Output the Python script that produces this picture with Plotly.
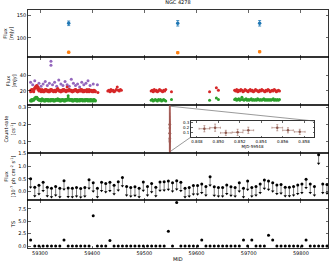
import plotly.graph_objects as go

# ---------------- Panel 1: radio flux (mJy) ----------------
radio_t = [59355, 59564, 59721]
radio_blue = [132, 132, 132]
radio_blue_err = [5, 6, 6]
radio_orange = [69, 68, 70]
radio_orange_err = [2, 2, 2]

# ---------------- Panel 2: optical / UV flux (mJy) ----------------
seg1_t = [59282, 59284, 59286, 59288, 59290, 59292, 59294, 59296, 59298, 59300,
          59302, 59304, 59306, 59308, 59310, 59312, 59314, 59316, 59318, 59320,
          59322, 59324, 59326, 59328, 59330, 59332, 59334, 59336, 59338, 59340,
          59342, 59344, 59346, 59348, 59350, 59352, 59354, 59356, 59358, 59360,
          59362, 59364, 59366, 59368, 59370, 59372, 59374, 59376, 59378, 59380,
          59382, 59384, 59386, 59388, 59390, 59392, 59394, 59396, 59398, 59400,
          59402, 59404, 59406]
red1_a = [21, 20, 22, 19, 24, 26, 27, 25, 23, 22, 21, 20, 19, 21, 22, 20, 21, 19, 20, 22,
          21, 20, 19, 21, 20, 22, 23, 21, 20, 19, 21, 20, 22, 21, 20, 25, 21, 22, 20, 21,
          19, 20, 21, 22, 20, 19, 21, 20, 22, 21, 20, 19, 21, 20, 22, 21, 19, 20, 21, 20,
          19, 21, 20]
red1_b = [19, 22, 20, 21, 23, 25, 24, 22, 20, 21, 19, 22, 20, 19, 21, 22, 20, 21, 19, 20,
          22, 21, 20, 20, 19, 21, 22, 20, 21, 19, 20, 22, 21, 20, 19, 21, 20, 22, 21, 20,
          19, 21, 20, 22, 21, 19, 20, 21, 20, 22, 19, 21, 20, 21, 19, 20, 22, 21, 20, 19,
          21, 20, 19]
green1_a = [8, 7, 9, 8, 10, 11, 12, 10, 9, 8, 9, 10, 8, 7, 9, 8, 9, 7, 8, 9,
            8, 9, 7, 8, 9, 8, 10, 8, 9, 7, 8, 9, 8, 7, 9, 8, 14, 9, 8, 9,
            7, 8, 9, 8, 9, 7, 8, 9, 8, 9, 7, 8, 9, 8, 9, 7, 8, 9, 8, 7,
            9, 8, 8]
green1_b = [7, 9, 8, 9, 11, 12, 11, 9, 8, 9, 7, 8, 9, 8, 7, 9, 8, 9, 8, 7,
            9, 8, 9, 7, 8, 9, 8, 9, 7, 8, 9, 8, 7, 9, 8, 9, 11, 8, 9, 8,
            9, 7, 8, 9, 7, 9, 8, 7, 9, 8, 9, 8, 7, 9, 8, 9, 8, 7, 9, 8,
            7, 9, 7]
purple_t = [59282, 59286, 59290, 59294, 59298, 59302, 59306, 59310, 59314, 59318,
            59321, 59321, 59324, 59328, 59332, 59336, 59340, 59344, 59348, 59352,
            59356, 59360, 59364, 59368, 59372, 59376, 59380, 59384, 59388, 59392,
            59396, 59402, 59410]
purple_v = [31, 28, 33, 27, 30, 26, 29, 32, 27, 30,
            58, 53, 28, 31, 26, 34, 29, 27, 32, 28,
            26, 35, 30, 27, 29, 25, 31, 28, 30, 33,
            27, 29, 28]

seg_t = [59411, 59430, 59432, 59434, 59436, 59438, 59440, 59442, 59444, 59446, 59448,
         59450, 59452, 59454, 59456,
         59513, 59515, 59517, 59519, 59521, 59523, 59525, 59527, 59529, 59531, 59533,
         59535, 59537, 59539, 59541, 59552, 59625, 59638, 59642,
         59673, 59675, 59677, 59679, 59681, 59683, 59685, 59687, 59689, 59691, 59693,
         59695, 59697, 59699, 59701, 59703, 59705, 59707, 59709, 59711, 59713, 59715,
         59717, 59719, 59721, 59723, 59725, 59727, 59729, 59731, 59733, 59735, 59737,
         59739, 59741, 59743, 59745, 59747, 59749, 59751, 59753, 59755, 59757, 59759]
red2_v = [18, 20, 21, 19, 22, 20, 21, 19, 20, 22, 25,
          21, 20, 22, 21,
          20, 21, 19, 22, 20, 21, 19, 20, 22, 21, 20, 19, 21, 20, 22, 19, 19, 24, 21,
          21, 20, 22, 19, 21, 20, 22, 21, 19, 20, 22, 21, 20, 19, 21, 22, 20, 21, 19,
          20, 22, 21, 20, 19, 21, 20, 22, 21, 20, 19, 21, 20, 22, 21, 19, 20, 21, 20,
          22, 21, 19, 20, 21, 20]
green2_t = [59513, 59515, 59517, 59519, 59521, 59523, 59525, 59527, 59529, 59531, 59533,
            59535, 59537, 59539, 59541, 59552, 59625, 59638, 59642,
            59673, 59675, 59677, 59679, 59681, 59683, 59685, 59687, 59689, 59691, 59693,
            59695, 59697, 59699, 59701, 59703, 59705, 59707, 59709, 59711, 59713, 59715,
            59717, 59719, 59721, 59723, 59725, 59727, 59729, 59731, 59733, 59735, 59737,
            59739, 59741, 59743, 59745, 59747, 59749, 59751, 59753, 59755, 59757, 59759]
green2_v = [8, 9, 7, 8, 9, 8, 7, 9, 8, 9, 7, 8, 9, 8, 7, 9, 8, 11, 9,
            9, 10, 8, 9, 10, 8, 9, 12, 9, 8, 9, 10, 8, 9, 8, 9, 10, 8, 9, 8,
            9, 8, 10, 9, 8, 9, 8, 9, 10, 8, 9, 8, 9, 8, 9, 8, 9, 10, 8, 9, 8,
            9, 8, 9]

# ---------------- Panel 3: X-ray count rate ----------------
xr_dt = [0.8487, 0.8497, 0.8507, 0.8518, 0.8528, 0.8555, 0.8565, 0.8576]
xr_rate = [0.18, 0.20, 0.10, 0.11, 0.15, 0.20, 0.15, 0.12]
xr_rate_err = [0.06, 0.07, 0.05, 0.06, 0.06, 0.06, 0.05, 0.05]
xr_dt_err = [0.0005, 0.0005, 0.0005, 0.0005, 0.0005, 0.0005, 0.0005, 0.0005]
xr_mjd0 = 59548

# ---------------- Panel 4/5: gamma-ray upper limits and TS ----------------
lat_t = [59282, 59290, 59298, 59306, 59314, 59322, 59330, 59338, 59346, 59354,
         59362, 59370, 59378, 59386, 59394, 59402, 59410, 59418, 59426, 59434,
         59442, 59450, 59458, 59466, 59474, 59482, 59490, 59498, 59506, 59514,
         59522, 59530, 59538, 59546, 59554, 59562, 59570, 59578, 59586, 59594,
         59602, 59610, 59618, 59626, 59634, 59642, 59650, 59658, 59666, 59674,
         59682, 59690, 59698, 59706, 59714, 59722, 59730, 59738, 59746, 59754,
         59762, 59770, 59778, 59786, 59794, 59802, 59810, 59818, 59826, 59834,
         59842, 59850]
lat_ul = [0.51, 0.17, 0.25, 0.37, 0.17, 0.13, 0.20, 0.13, 0.43, 0.14,
          0.13, 0.16, 0.12, 0.16, 0.47, 0.35, 0.13, 0.37, 0.32, 0.37,
          0.25, 0.39, 0.56, 0.20, 0.16, 0.19, 0.13, 0.38, 0.20, 0.32,
          0.17, 0.38, 0.39, 0.42, 0.35, 0.43, 0.37, 0.13, 0.16, 0.24,
          0.24, 0.30, 0.20, 0.59, 0.19, 0.16, 0.16, 0.26, 0.19, 0.16,
          0.35, 0.13, 0.42, 0.16, 0.20, 0.30, 0.46, 0.42, 0.35, 0.26,
          0.28, 0.17, 0.17, 0.20, 0.26, 0.30, 0.49, 0.30, 0.20, 1.45,
          0.30, 0.28]
lat_arrow = 0.34
lat_ts = [1.2, 0, 0, 0, 0, 0, 0, 0, 1.2, 0,
          0, 0, 0, 0, 0, 6.1, 0, 0, 0, 1.1,
          0, 0, 0, 0, 0, 0, 0, 0, 0, 0,
          0, 0, 0, 3.0, 0, 8.8, 0, 0, 0, 0,
          0, 1.2, 0, 0, 0, 0, 0, 0, 0, 0,
          0, 1.2, 0, 1.2, 0, 0, 0, 2.2, 1.2, 0,
          0, 0, 0, 0, 0, 0, 1.2, 0, 0, 0,
          0, 0]

x_ticks = [59300, 59400, 59500, 59600, 59700, 59800]
x_ticktext = ["59300", "59400", "59500", "59600", "59700", "59800"]

XR = [59277, 59852]
FONT = "DejaVu Sans"
FS = 5
BLUE, ORANGE, PURPLE, RED, GREEN, BROWN = "#1f77b4", "#ff7f0e", "#9467bd", "#d62728", "#2ca02c", "#8c564b"

fig = go.Figure()

def sc(x, y, ax, color, size=3, **kw):
    fig.add_trace(go.Scatter(x=x, y=y, mode="markers", xaxis="x" + ax, yaxis="y" + ax,
                             marker=dict(color=color, size=size, line=dict(width=0)),
                             showlegend=False, **kw))

# panel 1
sc(radio_t, radio_blue, "", BLUE, 3.5,
   error_y=dict(array=radio_blue_err, color=BLUE, width=1.5, thickness=0.8))
sc(radio_t, radio_orange, "", ORANGE, 3.5,
   error_y=dict(array=radio_orange_err, color=ORANGE, width=1.5, thickness=0.8))

# panel 2
sc(purple_t, purple_v, "2", PURPLE, 3)
sc(seg1_t, red1_a, "2", RED, 3)
sc(seg1_t, red1_b, "2", RED, 3)
sc(seg_t, red2_v, "2", RED, 3)
sc(seg1_t, green1_a, "2", GREEN, 3)
sc(seg1_t, green1_b, "2", GREEN, 3)
sc(green2_t, green2_v, "2", GREEN, 3)

# panel 3 (main) and inset
xr_mjd = [xr_mjd0 + d for d in xr_dt]
sc(xr_mjd, xr_rate, "3", BROWN, 2.5,
   error_y=dict(array=[2 * e for e in xr_rate_err], color=BROWN, width=0, thickness=0.8))
sc(xr_dt, xr_rate, "6", BROWN, 2.5,
   error_y=dict(array=xr_rate_err, color=BROWN, width=1, thickness=0.5),
   error_x=dict(array=xr_dt_err, color=BROWN, width=1, thickness=0.5))

# panel 4 : upper limits with downward arrows
lat_lo = [v - lat_arrow for v in lat_ul]
sc(lat_t, lat_ul, "4", "black", 3,
   error_y=dict(symmetric=False, array=[0] * len(lat_ul), arrayminus=[lat_arrow] * len(lat_ul),
                color="#555555", width=0, thickness=0.8))
fig.add_trace(go.Scatter(x=lat_t, y=lat_lo, mode="markers", xaxis="x4", yaxis="y4",
                         marker=dict(symbol="triangle-down", color="black", size=3, line=dict(width=0)),
                         showlegend=False))

# panel 5 : TS
sc(lat_t, lat_ts, "5", "black", 3)

# ---------------- layout ----------------
H0, H1 = 10, 248
def py(p):  # pixel row -> paper y
    return (H1 - p) / (H1 - H0)

doms = [(py(57), 1.0), (py(105), py(57)), (py(153), py(105)), (py(200), py(153)), (0.0, py(200))]
yranges = [[58.5, 161], [2.0, 63.5], [0.035, 0.313], [-0.33, 1.52], [-0.4, 9.3]]
ytitles = ["Flux<br>[mJy]", "Flux<br>[mJy]", "Count-rate<br>[cs<sup>-1</sup>]",
           "Flux<br>[10<sup>-7</sup> ph cm<sup>-2</sup> s<sup>-1</sup>]", "TS"]
ytickvals = [[100, 150], [20, 40], [0.1, 0.2, 0.3], [0.0, 0.5, 1.0, 1.5], [0.0, 2.5, 5.0, 7.5]]
yticktext = [["100", "150"], ["20", "40"], ["0.1", "0.2", "0.3"], ["0.0", "0.5", "1.0", "1.5"],
             ["0.0", "2.5", "5.0", "7.5"]]

common = dict(showgrid=False, zeroline=False, showline=True, linecolor="black", linewidth=0.8,
              mirror="ticks", ticks="inside", ticklen=2.5, tickwidth=0.6, tickcolor="black",
              tickfont=dict(size=FS, family=FONT, color="black"))

lay = {}
for i in range(5):
    n = "" if i == 0 else str(i + 1)
    lay["xaxis" + n] = dict(common, domain=[0, 1], anchor="y" + n, range=XR,
                            tickvals=x_ticks, ticktext=x_ticktext,
                            showticklabels=(i == 4),
                            **({} if i == 0 else {"matches": "x"}))
    lay["yaxis" + n] = dict(common, domain=list(doms[i]), anchor="x" + n, range=yranges[i],
                            tickvals=ytickvals[i], ticktext=yticktext[i],
                            title=dict(text=ytitles[i], font=dict(size=FS, family=FONT, color="black"),
                                       standoff=2))

# inset axes
ix0, ix1 = (191 - 28) / 300, (314 - 28) / 300
iy0, iy1 = py(137), py(121)
small = dict(common, ticklen=1.5, tickfont=dict(size=4, family=FONT, color="black"))
lay["xaxis6"] = dict(small, domain=[ix0, ix1], anchor="y6", range=[0.84745, 0.85893],
                     tickvals=[0.848, 0.850, 0.852, 0.854, 0.856, 0.858],
                     ticktext=["0.848", "0.850", "0.852", "0.854", "0.856", "0.858"],
                     title=dict(text="MJD-59548", font=dict(size=4, family=FONT, color="black"),
                                standoff=0))
lay["yaxis6"] = dict(small, domain=[iy0, iy1], anchor="x6", range=[0.02, 0.33],
                     tickvals=[0.1, 0.2, 0.3], ticktext=["0.1", "0.2", "0.3"])

# zoom connector lines (paper coords derived from axis ranges)
xm = (xr_mjd0 + 0.853 - XR[0]) / (XR[1] - XR[0])
p3_bot, p3_top = doms[2]
shapes = [
    dict(type="line", xref="paper", yref="paper", x0=xm, y0=p3_top - 0.005, x1=ix1, y1=iy1,
         line=dict(color="#555555", width=0.6)),
    dict(type="line", xref="paper", yref="paper", x0=xm, y0=p3_bot + 0.005, x1=ix0, y1=iy0,
         line=dict(color="#555555", width=0.6)),
    dict(type="rect", xref="paper", yref="paper", x0=xm - 0.002, y0=p3_bot + 0.005,
         x1=xm + 0.002, y1=p3_top - 0.005, line=dict(color="#c06060", width=0.5)),
]

annotations = [
    dict(text="MJD", xref="paper", yref="paper", x=0.5, y=0, xanchor="center",
         yanchor="top", yshift=-6, showarrow=False, font=dict(size=FS, family=FONT, color="black")),
]

fig.update_layout(
    width=332, height=261,
    margin=dict(l=28, r=4, t=10, b=13),
    paper_bgcolor="white", plot_bgcolor="white",
    font=dict(family=FONT, size=FS, color="black"),
    title=dict(text="NGC 4278", x=0.536, xanchor="center", y=0.997, yanchor="top",
               font=dict(size=FS, family=FONT, color="black")),
    shapes=shapes,
    annotations=annotations,
    **lay,
)

fig.write_html("out.html", config={"displayModeBar": False, "staticPlot": True},
               post_script="document.body.style.margin='0';document.body.style.overflow='hidden';")
